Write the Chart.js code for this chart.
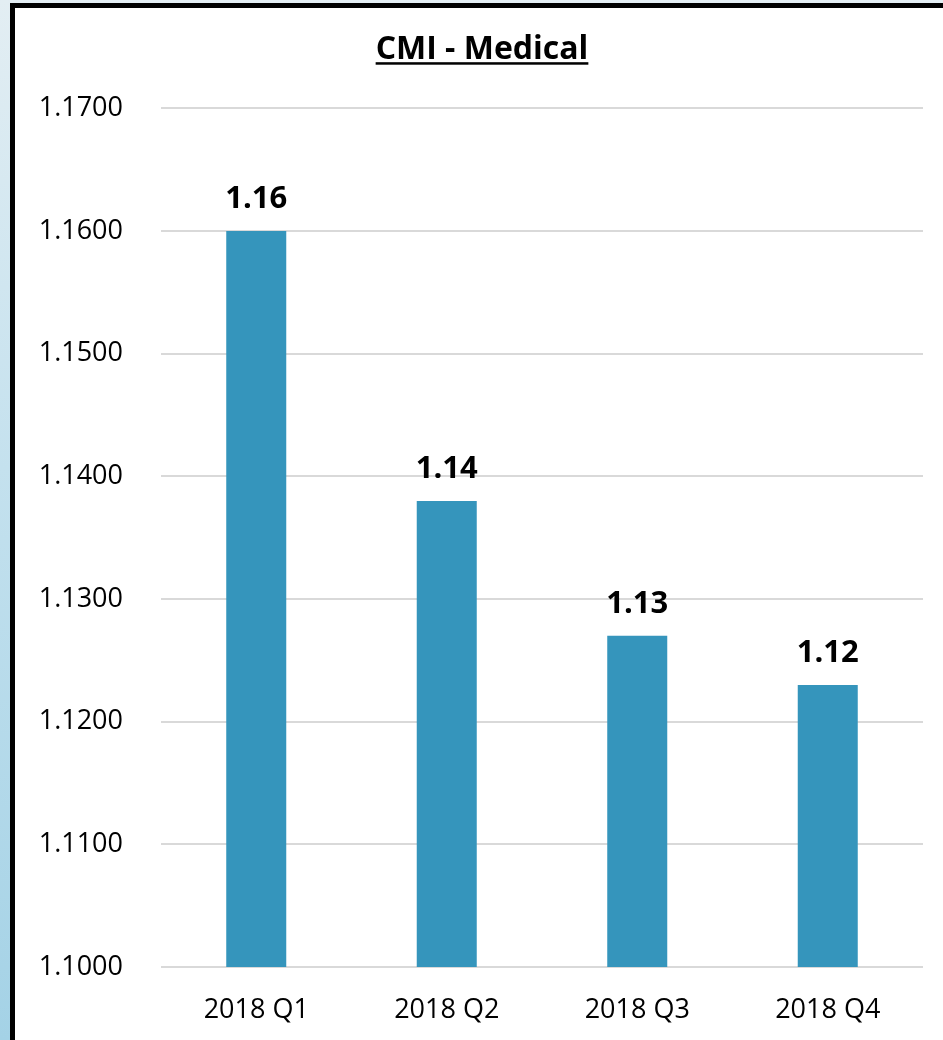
<!DOCTYPE html>
<html>
<head>
<meta charset="utf-8">
<title>CMI - Medical</title>
<script src="https://cdn.jsdelivr.net/npm/chart.js@4/dist/chart.umd.min.js"></script>
<style>
  html, body { margin: 0; padding: 0; }
  body {
    width: 943px; height: 1040px; overflow: hidden; position: relative;
    background: linear-gradient(to bottom, #e3eef3 0%, #c4e1ee 45%, #a4d2e6 100%);
  }
  #frame {
    position: absolute; left: 10px; top: 3px; width: 933px; height: 1037px;
    background: #ffffff; border-left: 5px solid #000; border-top: 5px solid #000;
    box-sizing: border-box;
  }
  #wrap { position: absolute; left: 0; top: 0; width: 928px; height: 1032px; }
</style>
</head>
<body>
<div id="frame"><div id="wrap"><canvas id="chart"></canvas></div></div>
<script>
// Case mix index by quarter
const categories = ['2018 Q1', '2018 Q2', '2018 Q3', '2018 Q4'];
const cmiValues = [1.160, 1.138, 1.127, 1.123];
const yTicks = [1.10, 1.11, 1.12, 1.13, 1.14, 1.15, 1.16, 1.17];

const FONT = '"Open Sans", "Liberation Sans", sans-serif';

// Underline under the chart title
const titleUnderline = {
  id: 'titleUnderline',
  afterDraw(chart) {
    const tb = chart.titleBlock;
    if (!tb || !tb.options.display) return;
    const ctx = chart.ctx;
    const f = tb.options.font;
    ctx.save();
    ctx.font = `${f.weight} ${f.size}px ${f.family}`;
    const w = ctx.measureText(tb.options.text).width;
    const cx = (tb.left + tb.right) / 2;
    const y = tb.top + tb.options.padding.top + f.size * 1.2 / 2 + f.size * 0.5 - 4;
    ctx.fillStyle = '#000';
    ctx.fillRect(cx - w / 2, y, w, 2.5);
    ctx.restore();
  }
};

// Value labels above each bar
const valueLabels = {
  id: 'valueLabels',
  afterDatasetsDraw(chart) {
    const ctx = chart.ctx;
    const meta = chart.getDatasetMeta(0);
    ctx.save();
    ctx.font = `bold 31px ${FONT}`;
    ctx.fillStyle = '#000';
    ctx.textAlign = 'center';
    ctx.textBaseline = 'alphabetic';
    meta.data.forEach((bar, i) => {
      ctx.fillText(cmiValues[i].toFixed(2), bar.x, bar.y - 23);
    });
    ctx.restore();
  }
};

new Chart(document.getElementById('chart'), {
  type: 'bar',
  data: {
    labels: categories,
    datasets: [{
      data: cmiValues,
      backgroundColor: '#3595bc',
      borderWidth: 0,
      barPercentage: 0.63,
      categoryPercentage: 0.5
    }]
  },
  options: {
    responsive: true,
    maintainAspectRatio: false,
    animation: false,
    layout: { padding: { left: 26, right: 20, top: 0, bottom: 0 } },
    plugins: {
      legend: { display: false },
      tooltip: { enabled: false },
      title: {
        display: true,
        text: 'CMI - Medical',
        color: '#000',
        font: { family: FONT, size: 32, weight: 'bold' },
        padding: { top: 23, bottom: 39 }
      }
    },
    scales: {
      x: {
        grid: { display: false, drawTicks: false },
        border: { display: false },
        afterFit(scale) { scale.height = 73; },
        ticks: { color: '#000', font: { family: FONT, size: 27 }, padding: 27 }
      },
      y: {
        min: yTicks[0],
        max: yTicks[yTicks.length - 1],
        afterBuildTicks(scale) { scale.ticks = yTicks.map(v => ({ value: v })); },
        afterFit(scale) { scale.width = 120; },
        grid: { color: '#d9d9d9', lineWidth: 2, drawTicks: false },
        border: { display: false },
        ticks: {
          color: '#000',
          font: { family: FONT, size: 27 },
          padding: 38,
          callback: v => Number(v).toFixed(4)
        }
      }
    }
  },
  plugins: [titleUnderline, valueLabels]
});
</script>
</body>
</html>
